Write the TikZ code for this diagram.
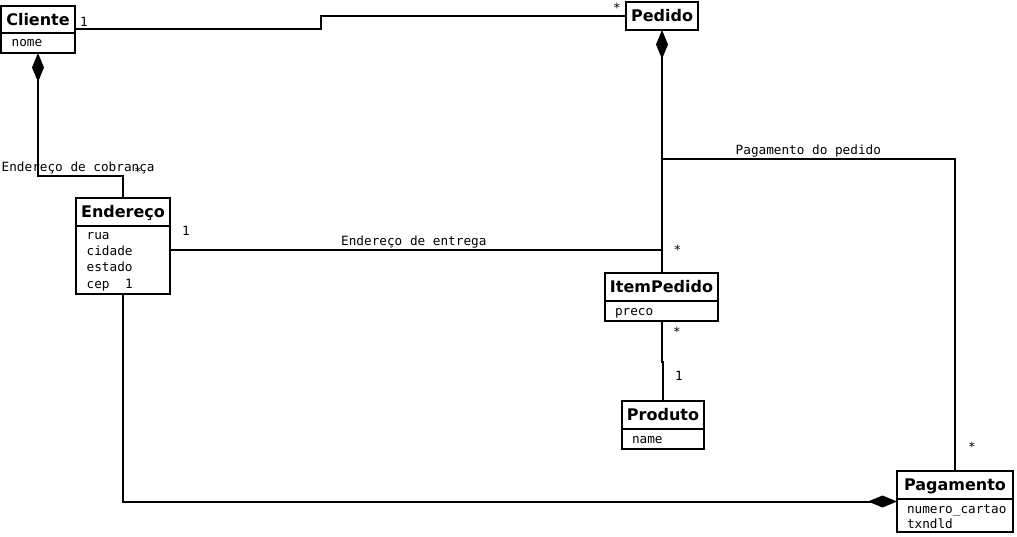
\documentclass[tikz,border=0pt]{standalone}
\usepackage{fontspec}
\setmainfont{DejaVu Sans}
\setmonofont{DejaVu Sans Mono}
\usetikzlibrary{arrows.meta}
\begin{document}
\begin{tikzpicture}[x=1pt,y=-1pt,
  cls/.style={draw, line width=2pt, outer sep=0pt, inner sep=0pt, anchor=north west},
  sep/.style={line width=2pt},
  title/.style={inner sep=0pt, anchor=base, font=\fontsize{16}{19}\selectfont\bfseries},
  attr/.style={inner sep=0pt, anchor=base west, font=\ttfamily\fontsize{12.7}{15}\selectfont},
  lbl/.style={inner sep=0pt, anchor=base, font=\ttfamily\fontsize{12.7}{15}\selectfont},
  conn/.style={line width=2pt},
  compstart/.style={{Diamond[length=29pt,width=12pt]}-},
  compend/.style={-{Diamond[length=29pt,width=12pt]}}
]
\useasboundingbox[fill=white] (0,0) rectangle (1017,537);

% Cliente
\node[cls, minimum width=74pt, minimum height=47pt] (cliente) at (1,6) {};
\draw[sep] (1,33) -- (75,33);
\node[title] (clienteT) at (38,25.4) {Cliente};
\node[attr] (clienteA) at (11.5,47) {nome};

% Pedido
\node[cls, minimum width=72pt, minimum height=28pt] (pedido) at (626,2) {};
\node[title] (pedidoT) at (662,21.8) {Pedido};

% Endereco
\node[cls, minimum width=94pt, minimum height=96pt] (endereco) at (76,198) {};
\draw[sep] (76,226) -- (170,226);
\node[title] (enderecoT) at (123,217.8) {Endereço};
\node[attr] (endA1) at (86.5,240) {rua};
\node[attr] (endA2) at (86.5,256) {cidade};
\node[attr] (endA3) at (86.5,272) {estado};
\node[attr] (endA4) at (86.5,288) {cep};

% ItemPedido
\node[cls, minimum width=113pt, minimum height=48pt] (itempedido) at (605,273) {};
\draw[sep] (605,301) -- (718,301);
\node[title] (itemT) at (661.5,292.8) {ItemPedido};
\node[attr] (itemA) at (614.8,316) {preco};

% Produto
\node[cls, minimum width=82pt, minimum height=48pt] (produto) at (622,401) {};
\draw[sep] (622,429) -- (704,429);
\node[title] (produtoT) at (663,420.8) {Produto};
\node[attr] (produtoA) at (631.8,443.3) {name};

% Pagamento
\node[cls, minimum width=116pt, minimum height=61pt] (pagamento) at (897,471) {};
\draw[sep] (897,499) -- (1013,499);
\node[title] (pagT) at (955,490.8) {Pagamento};
\node[attr] (pagA1) at (906.8,513.3) {numero\_cartao};
\node[attr] (pagA2) at (906.8,528.5) {txndld};

% helper coordinates
\coordinate (j1) at (321,0);
\coordinate (j2) at (0,176);
\coordinate (e1) at ([yshift=-4pt]endereco.east);
\coordinate (p1) at (0,159);
\coordinate (j3) at (0,362);

% connectors
\draw[conn] (cliente.east) -- (cliente.east -| j1) |- (pedido.west);
\draw[conn, compstart] (cliente.south) -- (cliente.south |- j2) -| (endereco.north);
\draw[conn, compstart] (pedido.south) -- (pedido.south |- itempedido.north);
\draw[conn] (e1) -- (e1 -| pedido.south);
\draw[conn] (pedido.south |- p1) -| (pagamento.north);
\draw[conn] (itempedido.south) -- (itempedido.south |- j3) -- (produto.north |- j3) -- (produto.north);
\draw[conn, compend] (endereco.south) |- (pagamento.west);

% labels
\node[lbl] (l1) at (84,26.5) {1};
\node[lbl] (l2) at (617,13) {*};
\node[lbl, anchor=base west] (l3) at (1.5,172) {Endereço de cobrança};
\node[lbl] (l4) at (138,177) {*};
\node[lbl] (l5) at (186,235.6) {1};
\node[lbl, anchor=base west] (l6) at (341,246) {Endereço de entrega};
\node[lbl] (l7) at (677.5,254.5) {*};
\node[lbl] (l8) at (129,288.6) {1};
\node[lbl, anchor=base west] (l9) at (735.5,155) {Pagamento do pedido};
\node[lbl] (l10) at (677,336.5) {*};
\node[lbl] (l11) at (679,380.6) {1};
\node[lbl] (l12) at (972,451.5) {*};
\end{tikzpicture}
\end{document}
